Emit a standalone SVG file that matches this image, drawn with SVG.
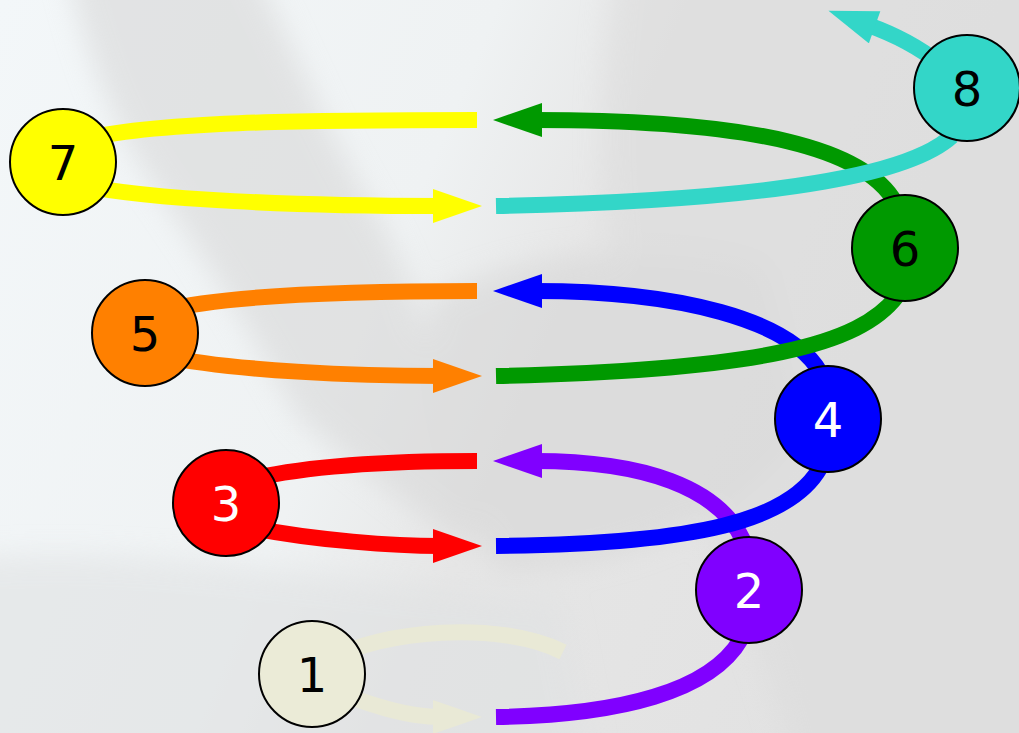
<svg xmlns="http://www.w3.org/2000/svg" width="1019" height="733" viewBox="0 0 1019 733">
<style>
.link{fill:none;stroke-width:16;stroke-linecap:butt}
.node circle{stroke:#000;stroke-width:2}
.node text{font-family:"DejaVu Sans",sans-serif;font-size:48px;text-anchor:middle}
</style>
<defs>
<linearGradient id="bg" x1="0" y1="0" x2="1" y2="0.3">
<stop offset="0" stop-color="#f3f7f9"/>
<stop offset="0.45" stop-color="#eff2f3"/>
<stop offset="0.62" stop-color="#e6e6e6"/>
<stop offset="1" stop-color="#e2e2e2"/>
</linearGradient>
<filter id="blur" filterUnits="userSpaceOnUse" x="-100" y="-100" width="1219" height="933"><feGaussianBlur stdDeviation="14"/></filter>
<marker id="aYellow" markerUnits="userSpaceOnUse" markerWidth="50" markerHeight="34" viewBox="0 0 49 34" refX="7" refY="17" orient="auto"><path d="M0,0 L49,17 L0,34 z" fill="#ffff00"/></marker>
<marker id="aOrange" markerUnits="userSpaceOnUse" markerWidth="50" markerHeight="34" viewBox="0 0 49 34" refX="7" refY="17" orient="auto"><path d="M0,0 L49,17 L0,34 z" fill="#ff8000"/></marker>
<marker id="aRed" markerUnits="userSpaceOnUse" markerWidth="50" markerHeight="34" viewBox="0 0 49 34" refX="7" refY="17" orient="auto"><path d="M0,0 L49,17 L0,34 z" fill="#ff0000"/></marker>
<marker id="aBeige" markerUnits="userSpaceOnUse" markerWidth="50" markerHeight="34" viewBox="0 0 49 34" refX="7" refY="17" orient="auto"><path d="M0,0 L49,17 L0,34 z" fill="#e9e9d6"/></marker>
<marker id="aPurple" markerUnits="userSpaceOnUse" markerWidth="50" markerHeight="34" viewBox="0 0 49 34" refX="7" refY="17" orient="auto"><path d="M0,0 L49,17 L0,34 z" fill="#8000ff"/></marker>
<marker id="aBlue" markerUnits="userSpaceOnUse" markerWidth="50" markerHeight="34" viewBox="0 0 49 34" refX="7" refY="17" orient="auto"><path d="M0,0 L49,17 L0,34 z" fill="#0000ff"/></marker>
<marker id="aGreen" markerUnits="userSpaceOnUse" markerWidth="50" markerHeight="34" viewBox="0 0 49 34" refX="7" refY="17" orient="auto"><path d="M0,0 L49,17 L0,34 z" fill="#009900"/></marker>
<marker id="aTurq" markerUnits="userSpaceOnUse" markerWidth="50" markerHeight="34" viewBox="0 0 49 34" refX="7" refY="17" orient="auto"><path d="M0,0 L49,17 L0,34 z" fill="#33d6c8"/></marker>
</defs>

<g id="background">
<rect width="1019" height="733" fill="url(#bg)"/>
<g filter="url(#blur)" opacity="0.6">
<path d="M620,-60 L1100,-60 L1100,800 L800,800 C770,640 690,500 640,370 C600,260 590,120 620,-60 Z" fill="#dcdcdc"/>
<path d="M60,-60 L240,-60 C300,60 330,140 380,220 C420,290 430,380 470,450 L470,550 C430,520 360,470 300,420 C250,330 200,250 150,180 C110,120 80,40 60,-60 Z" fill="#d8d8d8"/>
<path d="M430,300 C520,250 650,240 760,270 L800,430 C740,520 620,570 500,570 C440,500 420,380 430,300 Z" fill="#d7d7d7"/>
<path d="M-60,560 C150,540 300,580 560,600 L600,800 L-60,800 Z" fill="#e0e2e3"/>
</g>
</g>

<g id="connectors">
<path class="link" stroke="#ffff00" d="M80,140 C150,122 300,120 477,120"/>
<path class="link" stroke="#ffff00" d="M80,185 C150,200 300,206 440,206" marker-end="url(#aYellow)"/>
<path class="link" stroke="#ff8000" d="M162,311 C232,293 382,291 477,291"/>
<path class="link" stroke="#ff8000" d="M162,356 C232,371 360,376 440,376" marker-end="url(#aOrange)"/>
<path class="link" stroke="#ff0000" d="M243,481 C313,463 420,461 477,461"/>
<path class="link" stroke="#ff0000" d="M243,526 C313,541 400,546 440,546" marker-end="url(#aRed)"/>
<path class="link" stroke="#e9e9d6" d="M330,660 C380,630 500,620 563,652"/>
<path class="link" stroke="#e9e9d6" d="M330,690 C380,708 410,717 440,717" marker-end="url(#aBeige)"/>
<path class="link" stroke="#009900" d="M895,202 C865,150 760,120 535,120" marker-end="url(#aGreen)"/>
<path class="link" stroke="#0000ff" d="M820,372 C790,320 680,291 535,291" marker-end="url(#aBlue)"/>
<path class="link" stroke="#8000ff" d="M743,540 C718,488 645,461 535,461" marker-end="url(#aPurple)"/>
<path class="link" stroke="#33d6c8" d="M940,64 Q910,40 868,25" marker-end="url(#aTurq)"/>
<path class="link" stroke="#33d6c8" d="M952,136 C915,170 800,200 496,206"/>
<path class="link" stroke="#009900" d="M897,296 C860,345 760,370 496,376"/>
<path class="link" stroke="#0000ff" d="M820,468 C790,520 700,544 496,546"/>
<path class="link" stroke="#8000ff" d="M741,639 C711,691 621,715 496,717"/>
</g>

<g id="node-7" class="node"><circle cx="63" cy="162" r="53" fill="#ffff00"/><text x="63" y="179.5" fill="#000">7</text></g>
<g id="node-5" class="node"><circle cx="145" cy="333" r="53" fill="#ff8000"/><text x="145" y="350.5" fill="#000">5</text></g>
<g id="node-3" class="node"><circle cx="226" cy="503" r="53" fill="#ff0000"/><text x="226" y="520.5" fill="#fff">3</text></g>
<g id="node-1" class="node"><circle cx="312" cy="674" r="53" fill="#ebebd7"/><text x="312" y="691.5" fill="#000">1</text></g>
<g id="node-2" class="node"><circle cx="749" cy="590" r="53" fill="#8000ff"/><text x="749" y="607.5" fill="#fff">2</text></g>
<g id="node-4" class="node"><circle cx="828" cy="419" r="53" fill="#0000ff"/><text x="828" y="436.5" fill="#fff">4</text></g>
<g id="node-6" class="node"><circle cx="905" cy="248" r="53" fill="#009900"/><text x="905" y="265.5" fill="#000">6</text></g>
<g id="node-8" class="node"><circle cx="967" cy="88" r="53" fill="#33d6c8"/><text x="967" y="105.5" fill="#000">8</text></g>
</svg>
